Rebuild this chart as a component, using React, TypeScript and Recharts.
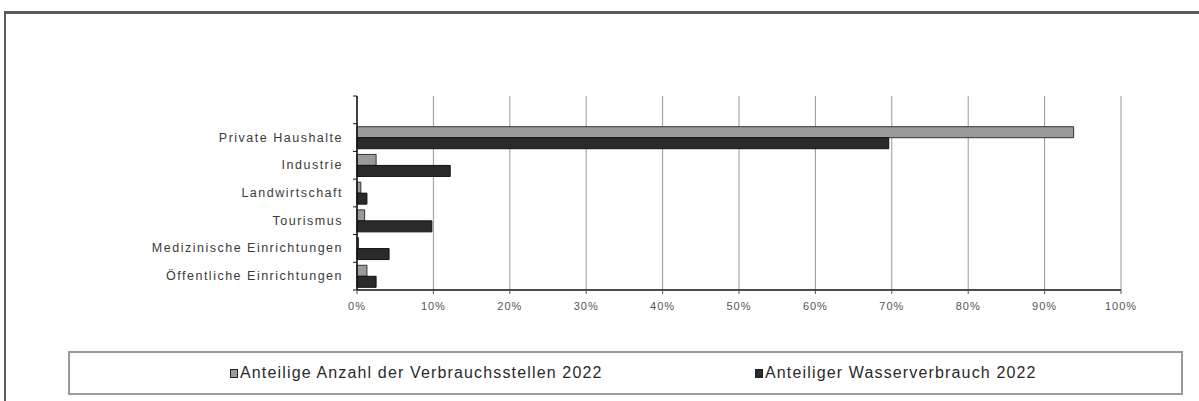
import React from "react";
import { BarChart, Bar, XAxis, YAxis, CartesianGrid, Legend } from "recharts";

const categories = ["", "Private Haushalte", "Industrie", "Landwirtschaft", "Tourismus", "Medizinische Einrichtungen", "Öffentliche Einrichtungen"];
const verbrauchsstellen: (number | null)[] = [null, 93.8, 2.5, 0.5, 1.0, 0.2, 1.3];
const wasserverbrauch: (number | null)[] = [null, 69.6, 12.2, 1.3, 9.8, 4.2, 2.5];
const xTicks = [0, 10, 20, 30, 40, 50, 60, 70, 80, 90, 100];
const seriesNames = ["Anteilige Anzahl der Verbrauchsstellen 2022", "Anteiliger Wasserverbrauch 2022"];

const data = categories.map((name, i) => ({
  name,
  stellen: verbrauchsstellen[i],
  wasser: wasserverbrauch[i],
}));

const FONT = "'Liberation Sans', Arial, sans-serif";

const YTick = (props: any) => {
  const { x, y, payload, index } = props;
  const off = payload && typeof payload.offset === "number" ? payload.offset : 13.85;
  return (
    <g>
      {payload.value ? (
        <text x={x} y={y} dy={4} textAnchor="end" fontSize={12.5} letterSpacing={1.5} fill="#3a3a3a" fontFamily={FONT}>
          {payload.value}
        </text>
      ) : null}
      <line x1={x + 10} x2={x + 14} y1={y - off} y2={y - off} stroke="#111" strokeWidth={1} />
      {index === categories.length - 1 ? (
        <line x1={x + 10} x2={x + 14} y1={y + off} y2={y + off} stroke="#111" strokeWidth={1} />
      ) : null}
    </g>
  );
};

const LegendContent = () => {
  const fills = ["#9a9a9a", "#2a2a2a"];
  const lefts = [160, 685];
  return (
    <div
      style={{
        position: "relative",
        width: "100%",
        height: "100%",
        boxSizing: "border-box",
        border: "2px solid #9a9a9a",
        fontFamily: FONT,
      }}
    >
      {seriesNames.map((n, i) => (
        <div
          key={n}
          style={{
            position: "absolute",
            left: lefts[i],
            top: 11,
            display: "flex",
            alignItems: "center",
            fontSize: 16,
            letterSpacing: 1.15,
            color: "#2a2a2a",
            whiteSpace: "nowrap",
          }}
        >
          <span
            style={{
              display: "inline-block",
              width: 6,
              height: 7,
              background: fills[i],
              border: "1.5px solid #222",
              marginRight: 2,
            }}
          />
          {n}
        </div>
      ))}
    </div>
  );
};

export default function App() {
  return (
    <div style={{ position: "absolute", left: 0, top: 0, width: 1199, height: 401, background: "#fff", overflow: "hidden" }}>
      <div
        style={{
          position: "absolute",
          left: 4,
          top: 11,
          width: 1200,
          height: 400,
          borderTop: "3px solid #5a5a5a",
          borderLeft: "2px solid #5a5a5a",
        }}
      />
      <div style={{ position: "absolute", left: 0, top: 0 }}>
        <BarChart
          width={1199}
          height={401}
          data={data}
          layout="vertical"
          margin={{ top: 96, right: 78, bottom: 81, left: 0 }}
          barSize={11}
          barGap={0}
        >
          <CartesianGrid horizontal={false} vertical={true} stroke="#999" strokeWidth={1} />
          <XAxis
            type="number"
            domain={[0, 100]}
            ticks={xTicks}
            interval={0}
            tickFormatter={(v: number) => `${v}%`}
            height={30}
            tickSize={4}
            tickMargin={8}
            axisLine={{ stroke: "#111", strokeWidth: 1.5 }}
            tickLine={{ stroke: "#555" }}
            tick={{ fontSize: 11, fill: "#555", fontFamily: FONT, letterSpacing: 1 }}
          />
          <YAxis
            type="category"
            dataKey="name"
            width={357}
            interval={0}
            tickSize={4}
            tickMargin={10}
            tickLine={false}
            axisLine={{ stroke: "#111", strokeWidth: 1.5 }}
            tick={<YTick />}
          />
          <Bar dataKey="stellen" name={seriesNames[0]} fill="#9a9a9a" stroke="#333" strokeWidth={1} isAnimationActive={false} />
          <Bar dataKey="wasser" name={seriesNames[1]} fill="#2a2a2a" stroke="#111" strokeWidth={1} isAnimationActive={false} />
          <Legend
            layout="horizontal"
            verticalAlign="middle"
            align="center"
            content={<LegendContent />}
            wrapperStyle={{ position: "absolute", left: 68, top: 351, width: 1115, height: 44 }}
          />
        </BarChart>
      </div>
    </div>
  );
}
